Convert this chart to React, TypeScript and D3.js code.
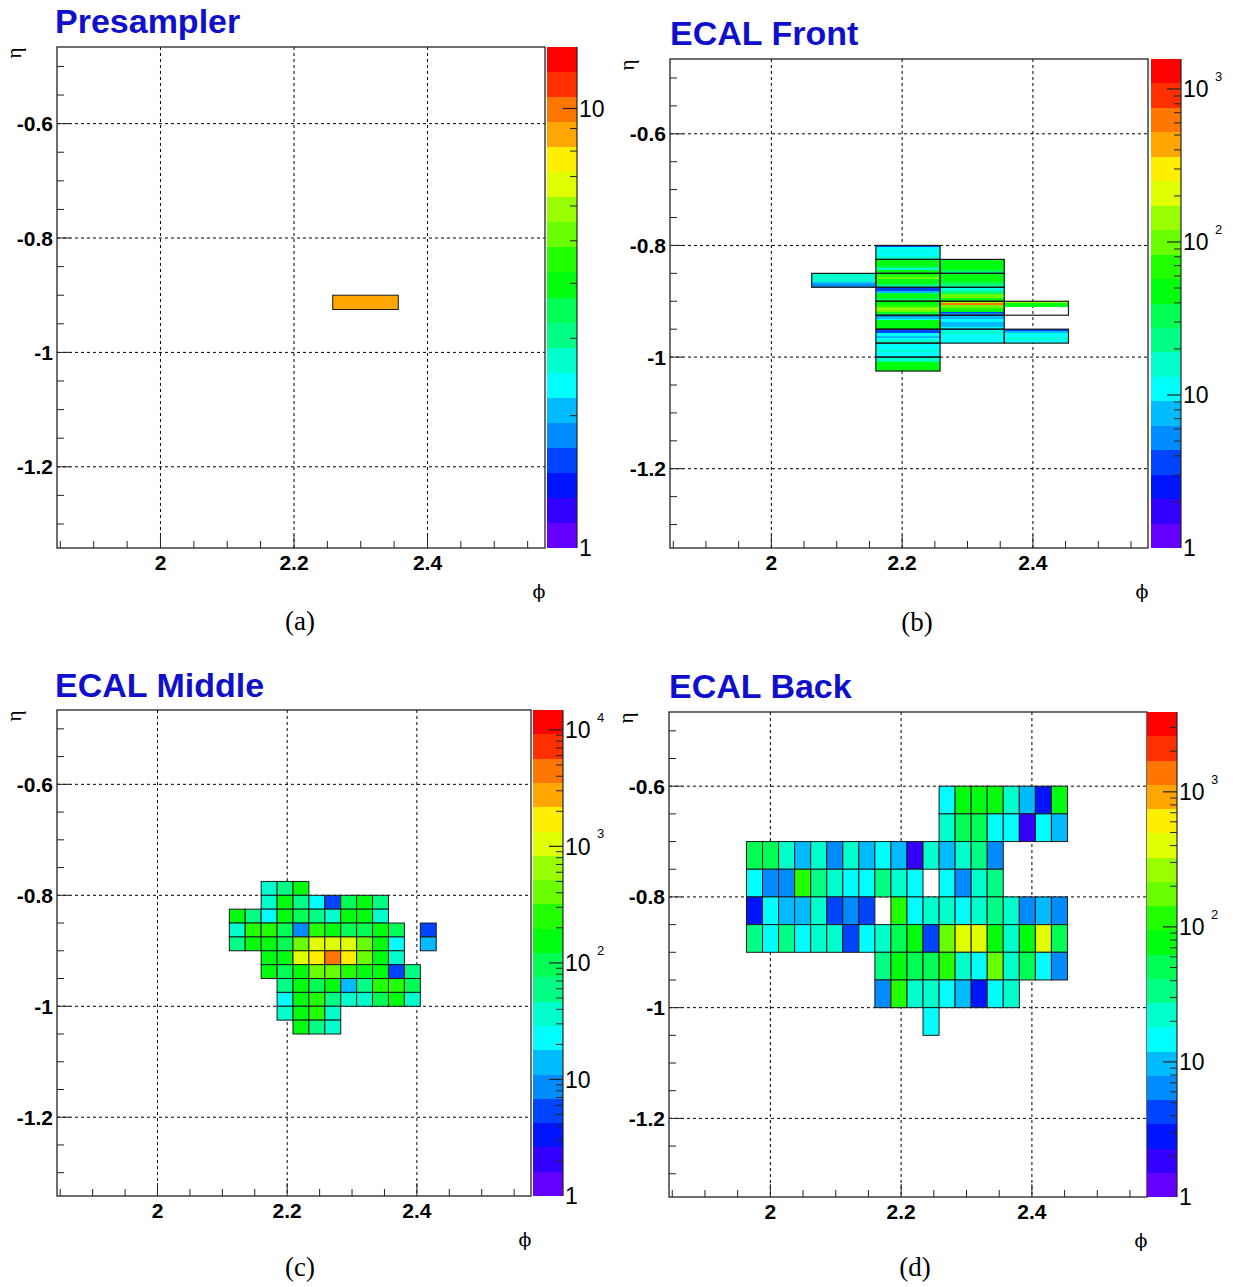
import React from "react";
import * as d3 from "d3";

const W = 1233;
const H = 1287;

// ---------- axes ----------
const PHI_RANGE = [1.845, 2.576];
const ETA_RANGE = [-1.342, -0.466];
const PHI_MAJOR = [2, 2.2, 2.4];
const PHI_LABELS = ["2", "2.2", "2.4"];
const ETA_MAJOR = [-0.6, -0.8, -1, -1.2];
const ETA_LABELS = ["-0.6", "-0.8", "-1", "-1.2"];
const PHI_MINOR = [1.85, 1.9, 1.95, 2.05, 2.1, 2.15, 2.25, 2.3, 2.35, 2.45, 2.5, 2.55];
const ETA_MINOR = [-0.5, -0.55, -0.65, -0.7, -0.75, -0.85, -0.9, -0.95, -1.05, -1.1, -1.15, -1.25, -1.3];

const TITLES = ["Presampler", "ECAL Front", "ECAL Middle", "ECAL Back"];
const CAPTIONS = ["(a)", "(b)", "(c)", "(d)"];
const Z_MAX = [13.8, 1570, 14800, 3900];
const N_CONTOURS = 20;

// ---------- granularity ----------
const PHI64 = (2 * Math.PI) / 64;
const PHI256 = (2 * Math.PI) / 256;
const D_ETA_PRESAMPLER = 0.025;
const D_ETA_FRONT_BOX = 0.025;
const FRONT_STRIPS_PER_BOX = 8;
const D_ETA_MIDDLE = 0.025;
const D_ETA_BACK = 0.05;

// ---------- Presampler ----------
const PRESAMPLER_PHI_BIN = [23];
const PRESAMPLER_ETA_TOP = [-0.9];
const PRESAMPLER_VALUE = [8.7];

// ---------- ECAL Front (boxes of 8 strips, top to bottom) ----------
const FRONT_PHI_BIN = [21, 22, 22, 22, 22, 22, 22, 22, 22, 22, 23, 23, 23, 23, 23, 23, 24, 24];
const FRONT_ETA_TOP = [-0.85, -0.8, -0.825, -0.85, -0.875, -0.9, -0.925, -0.95, -0.975, -1.0,
  -0.825, -0.85, -0.875, -0.9, -0.925, -0.95, -0.9, -0.95];
const FRONT_STRIPS = [
  [16, 15.5, 16.5, 15, 16, 7.6, 5.2, 5.0],
  [3.6, 11, 10, 16, 12, 11, 15, 11],
  [46, 50, 44, 52, 33, 17, 49, 47],
  [48, 70, 98, 51, 45, 47, 24, 16],
  [3.5, 3.8, 7.4, 32, 49, 46, 34, 50],
  [47, 52, 66, 102, 140, 96, 46, 31],
  [5.1, 7.7, 11, 48, 44, 52, 47, 50],
  [3.4, 3.7, 11, 12, 7.8, 10.5, 16, 15],
  [11, 12, 10.5, 11, 17, 11, 12, 10.8],
  [15, 16, 23, 46, 50, 48, 45, 51],
  [49, 47, 51, 45, 50, 48, 33, 23],
  [50, 46, 52, 48, 47, 34, 22, 24],
  [11, 16, 22, 32, 97, 103, 48, 46],
  [148, 630, 101, 95, 68, 47, 3.6, 5.0],
  [7.5, 7.7, 11, 12, 7.3, 7.8, 7.6, 11],
  [11, 16, 15, 10.7, 11.5, 12, 10.5, 11],
  [150, 47, 49, 0, 0, 0, 0, 0],
  [3.7, 7.5, 11, 12, 10.6, 16, 11, 12],
];

// ---------- ECAL Middle (rows from eta -0.775 downward, columns from phi bin 86) ----------
const MIDDLE_FIRST_PHI_BIN = 86;
const MIDDLE_TOP_ETA = -0.775;
const MIDDLE_VALUES = [
  [0, 0, 37, 59, 155, 0, 0, 0, 0, 0, 0, 0, 0],
  [0, 0, 37, 155, 59, 23, 5.4, 96, 155, 59, 0, 0, 0],
  [155, 59, 23, 155, 96, 59, 37, 155, 155, 37, 0, 0, 0],
  [37, 250, 250, 96, 8.7, 250, 155, 96, 96, 155, 96, 0, 5.4],
  [59, 155, 155, 96, 404, 1055, 1055, 1055, 404, 155, 23, 0, 14],
  [0, 0, 155, 155, 1055, 1706, 4456, 1706, 404, 155, 37, 0, 0],
  [0, 0, 155, 96, 155, 404, 404, 250, 155, 155, 5.4, 59, 0],
  [0, 0, 0, 59, 155, 96, 155, 14, 59, 250, 250, 96, 0],
  [0, 0, 0, 23, 155, 250, 59, 37, 37, 96, 155, 37, 0],
  [0, 0, 0, 37, 155, 250, 37, 0, 0, 0, 0, 0, 0],
  [0, 0, 0, 0, 155, 59, 37, 0, 0, 0, 0, 0, 0],
];

// ---------- ECAL Back (rows from eta -0.6 downward, columns from phi bin 80) ----------
const BACK_FIRST_PHI_BIN = 80;
const BACK_TOP_ETA = -0.6;
const BACK_VALUES = [
  [0, 0, 0, 0, 0, 0, 0, 0, 0, 0, 0, 0, 14.7, 77, 77, 77, 22, 9.7, 2.8, 77],
  [0, 0, 0, 0, 0, 0, 0, 0, 0, 0, 0, 0, 22, 51, 51, 14.7, 14.7, 2.0, 14.7, 9.7],
  [51, 51, 22, 9.7, 22, 6.4, 22, 9.7, 14.7, 9.7, 2.0, 22, 9.7, 22, 34, 6.4, 0, 0, 0, 0],
  [14.7, 6.4, 6.4, 116, 34, 22, 14.7, 14.7, 34, 22, 14.7, 0, 14.7, 6.4, 22, 34, 0, 0, 0, 0],
  [2.8, 14.7, 9.7, 9.7, 22, 4.2, 6.4, 4.2, 0, 116, 14.7, 22, 22, 14.7, 22, 34, 22, 6.4, 9.7, 6.4],
  [34, 14.7, 34, 14.7, 22, 22, 4.2, 14.7, 22, 51, 77, 4.2, 175, 400, 400, 77, 22, 77, 400, 51],
  [0, 0, 0, 0, 0, 0, 0, 0, 34, 77, 51, 51, 116, 22, 14.7, 175, 22, 51, 14.7, 6.4],
  [0, 0, 0, 0, 0, 0, 0, 0, 6.4, 116, 22, 22, 14.7, 9.7, 2.8, 14.7, 22, 0, 0, 0],
  [0, 0, 0, 0, 0, 0, 0, 0, 0, 0, 0, 14.7, 0, 0, 0, 0, 0, 0, 0, 0],
];

// ---------- layout ----------
const LAYOUTS = [
  { x0: 57, x1: 545, y0: 47, y1: 548, b0: 547, b1: 577, tx: 55, ty: 33, cx: 300, cy: 621 },
  { x0: 670, x1: 1148, y0: 59, y1: 548, b0: 1151, b1: 1181, tx: 670, ty: 45, cx: 917, cy: 622 },
  { x0: 57, x1: 531, y0: 710, y1: 1196, b0: 533, b1: 563, tx: 55, ty: 697, cx: 300, cy: 1267 },
  { x0: 669, x1: 1147, y0: 712, y1: 1197, b0: 1147, b1: 1177, tx: 669, ty: 698, cx: 915, cy: 1267 },
];

// ROOT "pretty" palette: 50 HLS hues 280 -> 0, picked by 20 contours
const PALETTE = d3.range(N_CONTOURS).map((k) => {
  const idx = Math.floor(((k + 0.99) * 50) / N_CONTOURS);
  const hue = 280 - ((idx + 1) * 280) / 50;
  return d3.hsl(hue, 1, 0.5).formatHex();
});

type Cell = { p0: number; p1: number; e0: number; e1: number; v: number };

const presamplerCells: Cell[] = PRESAMPLER_VALUE.map((v, i) => ({
  p0: PRESAMPLER_PHI_BIN[i] * PHI64,
  p1: (PRESAMPLER_PHI_BIN[i] + 1) * PHI64,
  e0: PRESAMPLER_ETA_TOP[i],
  e1: PRESAMPLER_ETA_TOP[i] - D_ETA_PRESAMPLER,
  v,
}));

const frontStripH = D_ETA_FRONT_BOX / FRONT_STRIPS_PER_BOX;
const frontCells: Cell[] = FRONT_STRIPS.flatMap((strips, i) =>
  strips.map((v, j) => ({
    p0: FRONT_PHI_BIN[i] * PHI64,
    p1: (FRONT_PHI_BIN[i] + 1) * PHI64,
    e0: FRONT_ETA_TOP[i] - j * frontStripH,
    e1: FRONT_ETA_TOP[i] - (j + 1) * frontStripH,
    v,
  }))
).filter((c) => c.v > 0);
const frontBoxes: Cell[] = FRONT_PHI_BIN.map((b, i) => ({
  p0: b * PHI64,
  p1: (b + 1) * PHI64,
  e0: FRONT_ETA_TOP[i],
  e1: FRONT_ETA_TOP[i] - D_ETA_FRONT_BOX,
  v: 1,
}));

function gridCells(values: number[][], firstBin: number, topEta: number, dEta: number): Cell[] {
  return values
    .flatMap((row, r) =>
      row.map((v, c) => ({
        p0: (firstBin + c) * PHI256,
        p1: (firstBin + c + 1) * PHI256,
        e0: topEta - r * dEta,
        e1: topEta - (r + 1) * dEta,
        v,
      }))
    )
    .filter((c) => c.v > 0);
}

const middleCells = gridCells(MIDDLE_VALUES, MIDDLE_FIRST_PHI_BIN, MIDDLE_TOP_ETA, D_ETA_MIDDLE);
const backCells = gridCells(BACK_VALUES, BACK_FIRST_PHI_BIN, BACK_TOP_ETA, D_ETA_BACK);

const PANEL_CELLS = [presamplerCells, frontCells, middleCells, backCells];
const PANEL_OUTLINES = [presamplerCells, frontBoxes, middleCells, backCells];

const SANS = "'Liberation Sans', Arial, Helvetica, sans-serif";
const SERIF = "'Liberation Serif', 'DejaVu Serif', serif";

function Panel({ i }: { i: number }) {
  const L = LAYOUTS[i];
  const zmax = Z_MAX[i];
  const x = d3.scaleLinear().domain(PHI_RANGE).range([L.x0, L.x1]);
  const y = d3.scaleLinear().domain(ETA_RANGE).range([L.y1, L.y0]);
  const z = d3.scaleLog().domain([1, zmax]).range([L.y1, L.y0]);
  const band = (v: number) =>
    Math.max(0, Math.min(N_CONTOURS - 1, Math.floor((Math.log(v) / Math.log(zmax)) * N_CONTOURS)));

  const bands = d3.range(N_CONTOURS).map((k) => ({
    lo: Math.pow(zmax, k / N_CONTOURS),
    hi: Math.pow(zmax, (k + 1) / N_CONTOURS),
    color: PALETTE[k],
  }));
  const maxExp = Math.floor(Math.log10(zmax) + 1e-9);
  const decades = d3.range(0, maxExp + 1).map((e) => Math.pow(10, e));
  const minors = decades.flatMap((d) => d3.range(2, 10).map((m) => m * d)).filter((v) => v < zmax);

  const cells = PANEL_CELLS[i];
  const outlines = PANEL_OUTLINES[i];
  const stripMode = i === 1;

  return (
    <g>
      {/* title */}
      <text x={L.tx} y={L.ty} fontFamily={SANS} fontWeight="bold" fontSize={34} fill="#1010cc">
        {TITLES[i]}
      </text>

      {/* grid */}
      {PHI_MAJOR.map((p) => (
        <line key={"gx" + p} x1={x(p)} x2={x(p)} y1={L.y0} y2={L.y1} stroke="#000" strokeWidth={1} strokeDasharray="3,3" />
      ))}
      {ETA_MAJOR.map((e) => (
        <line key={"gy" + e} x1={L.x0} x2={L.x1} y1={y(e)} y2={y(e)} stroke="#000" strokeWidth={1} strokeDasharray="3,3" />
      ))}

      {/* cells */}
      {cells.map((c, k) => (
        <rect
          key={"c" + k}
          x={x(c.p0)}
          y={y(c.e0)}
          width={x(c.p1) - x(c.p0)}
          height={y(c.e1) - y(c.e0)}
          fill={PALETTE[band(c.v)]}
          stroke={stripMode ? "none" : "#1a1a1a"}
          strokeWidth={stripMode ? 0 : 1}
          shapeRendering={stripMode ? "crispEdges" : undefined}
        />
      ))}
      {stripMode &&
        outlines.map((c, k) => (
          <rect
            key={"o" + k}
            x={x(c.p0)}
            y={y(c.e0)}
            width={x(c.p1) - x(c.p0)}
            height={y(c.e1) - y(c.e0)}
            fill="none"
            stroke="#1a1a1a"
            strokeWidth={1.2}
          />
        ))}

      {/* frame */}
      <rect x={L.x0} y={L.y0} width={L.x1 - L.x0} height={L.y1 - L.y0} fill="none" stroke="#222" strokeWidth={1.3} />

      {/* x ticks */}
      {PHI_MAJOR.map((p) => (
        <line key={"tx" + p} x1={x(p)} x2={x(p)} y1={L.y1} y2={L.y1 - 13} stroke="#222" strokeWidth={1} />
      ))}
      {PHI_MINOR.map((p) => (
        <line key={"mx" + p} x1={x(p)} x2={x(p)} y1={L.y1} y2={L.y1 - 7} stroke="#222" strokeWidth={1} />
      ))}
      {PHI_MAJOR.map((p, k) => (
        <text key={"lx" + p} x={x(p)} y={L.y1 + 22} textAnchor="middle" fontFamily={SANS} fontWeight="bold" fontSize={21} fill="#000">
          {PHI_LABELS[k]}
        </text>
      ))}

      {/* y ticks */}
      {ETA_MAJOR.map((e) => (
        <line key={"ty" + e} x1={L.x0} x2={L.x0 + 13} y1={y(e)} y2={y(e)} stroke="#222" strokeWidth={1} />
      ))}
      {ETA_MINOR.map((e) => (
        <line key={"my" + e} x1={L.x0} x2={L.x0 + 7} y1={y(e)} y2={y(e)} stroke="#222" strokeWidth={1} />
      ))}
      {ETA_MAJOR.map((e, k) => (
        <text key={"ly" + e} x={L.x0 - 4} y={y(e)} dy="0.36em" textAnchor="end" fontFamily={SANS} fontWeight="bold" fontSize={21} fill="#000">
          {ETA_LABELS[k]}
        </text>
      ))}

      {/* axis titles */}
      <text
        transform={`translate(${L.x0 - 42},${L.y0 + 6}) rotate(-90)`}
        textAnchor="middle"
        dy="0.3em"
        fontFamily={SERIF}
        fontSize={21}
        fill="#000"
      >
        η
      </text>
      <text x={L.x1 - 6} y={L.y1 + 43} dy="0.35em" textAnchor="middle" fontFamily="'DejaVu Serif', serif" fontSize={19} fill="#000">
        ϕ
      </text>

      {/* colour bar */}
      {bands.map((b, k) => (
        <rect
          key={"b" + k}
          x={L.b0}
          y={z(b.hi)}
          width={L.b1 - L.b0}
          height={z(b.lo) - z(b.hi)}
          fill={b.color}
          shapeRendering="crispEdges"
        />
      ))}
      <line x1={L.b1} x2={L.b1} y1={L.y0} y2={L.y1} stroke="#222" strokeWidth={1.2} />
      {decades
        .filter((d) => d > 1)
        .map((d) => (
          <line key={"zt" + d} x1={L.b1} x2={L.b1 - 14} y1={z(d)} y2={z(d)} stroke="#222" strokeWidth={1.2} />
        ))}
      {minors.map((m) => (
        <line key={"zm" + m} x1={L.b1} x2={L.b1 - 7} y1={z(m)} y2={z(m)} stroke="#222" strokeWidth={1} />
      ))}
      {decades.map((d, e) => (
        <g key={"zl" + d}>
          <text x={L.b1 + 2} y={z(d)} dy="0.36em" fontFamily={SANS} fontSize={23} fill="#000">
            {e === 0 ? "1" : "10"}
          </text>
          {e >= 2 && (
            <text x={L.b1 + 34} y={z(d) - 13} dy="0.36em" fontFamily={SANS} fontSize={13} fill="#000">
              {String(e)}
            </text>
          )}
        </g>
      ))}

      {/* caption */}
      <text x={L.cx} y={L.cy} dy="0.35em" textAnchor="middle" fontFamily={SERIF} fontSize={27} fill="#000">
        {CAPTIONS[i]}
      </text>
    </g>
  );
}

export default function App() {
  return (
    <svg
      width={W}
      height={H}
      viewBox={`0 0 ${W} ${H}`}
      style={{ position: "absolute", left: 0, top: 0, background: "#fff" }}
    >
      <rect x={0} y={0} width={W} height={H} fill="#fff" />
      {LAYOUTS.map((_, i) => (
        <Panel key={i} i={i} />
      ))}
    </svg>
  );
}
